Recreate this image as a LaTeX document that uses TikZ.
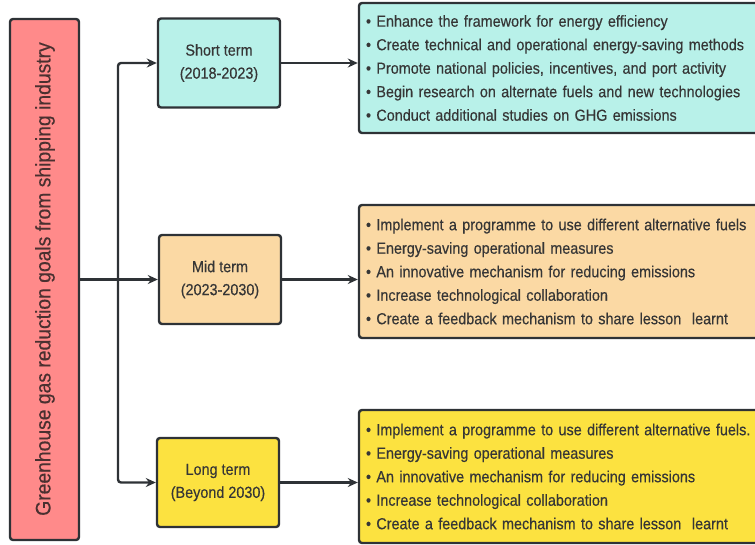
\documentclass[tikz,border=0pt]{standalone}
\usepackage{fontspec}
\setmainfont{Liberation Sans}
\newfontfamily\narrowsans[FakeStretch=0.9,FakeBold=0.35]{Liberation Sans}
\newfontfamily\goalsans[FakeStretch=0.92,FakeBold=0.35]{Liberation Sans}
\usetikzlibrary{arrows.meta,calc}

\definecolor{edgegray}{HTML}{2E3236}
\definecolor{inkgray}{HTML}{363636}
\definecolor{goalink}{HTML}{4A3030}
\definecolor{goalred}{HTML}{FF8A8A}
\definecolor{shortcyan}{HTML}{B8F1E9}
\definecolor{midpeach}{HTML}{FBD9A4}
\definecolor{longyellow}{HTML}{FCE240}

\tikzset{
  box/.style={draw=edgegray, line width=2.4pt, rounded corners=3pt, inner sep=0pt, text=inkgray},
  termbox/.style={box, minimum width=122pt, minimum height=89pt, align=center,
    font=\narrowsans\fontsize{16pt}{23pt}\selectfont},
  listbox/.style={box, minimum width=410pt, text width=396pt, align=left,
    font=\narrowsans\fontsize{16pt}{23.5pt}\selectfont},
  link/.style={draw=edgegray, line width=2.4pt, rounded corners=3pt,
    -{Stealth[length=10pt,width=9pt]}}
}

\begin{document}
\begin{tikzpicture}[x=1pt,y=-1pt]
  \useasboundingbox (0,0) rectangle (755,544);

  % overall goal, written bottom to top
  \node[box, fill=goalred, minimum width=69pt, minimum height=521pt] (goal) at (44.5,279.5) {};
  \node[rotate=90, text=goalink, font=\goalsans\fontsize{21pt}{24pt}\selectfont]
    (goaltext) at (45,279) {Greenhouse gas reduction goals from shipping industry};

  % the three time frames
  \node[termbox, fill=shortcyan] (short) at (219,63) {Short term\\(2018-2023)};
  \node[termbox, fill=midpeach] (mid) at (220,279.5) {Mid term\\(2023-2030)};
  \node[termbox, fill=longyellow] (long) at (218,482.5) {Long term\\(Beyond 2030)};

  % measures for each time frame
  \node[listbox, fill=shortcyan, minimum height=130pt] (shortlist) at (564,68) {%
    \textbullet\ Enhance the framework for energy efficiency\\
    \textbullet\ Create technical and operational energy-saving methods\\
    \textbullet\ Promote national policies, incentives, and port activity\\
    \textbullet\ Begin research on alternate fuels and new technologies\\
    \textbullet\ Conduct additional studies on GHG emissions};
  \node[listbox, fill=midpeach, minimum height=133pt] (midlist) at (564,271.5) {%
    \textbullet\ Implement a programme to use different alternative fuels\\
    \textbullet\ Energy-saving operational measures\\
    \textbullet\ An innovative mechanism for reducing emissions\\
    \textbullet\ Increase technological collaboration\\
    \textbullet\ Create a feedback mechanism to share lesson\ \ learnt};
  \node[listbox, fill=longyellow, minimum height=133pt] (longlist) at (564,476.5) {%
    \textbullet\ Implement a programme to use different alternative fuels.\\
    \textbullet\ Energy-saving operational measures\\
    \textbullet\ An innovative mechanism for reducing emissions\\
    \textbullet\ Increase technological collaboration\\
    \textbullet\ Create a feedback mechanism to share lesson\ \ learnt};

  % branching connectors
  \coordinate (fork) at (118,279.5);
  \draw[link] (goal.east |- mid.west) -- (mid.west);
  \draw[link] (fork) |- (short.west);
  \draw[link] (fork) |- (long.west);

  \draw[link] (short.east) -- (short.east -| shortlist.west);
  \draw[link] (mid.east) -- (mid.east -| midlist.west);
  \draw[link] (long.east) -- (long.east -| longlist.west);
\end{tikzpicture}
\end{document}
